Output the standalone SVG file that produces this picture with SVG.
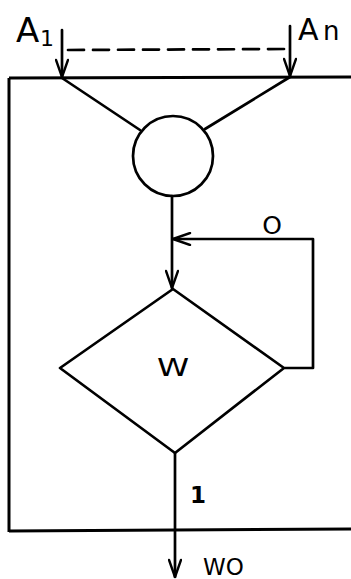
<svg xmlns="http://www.w3.org/2000/svg" width="351" height="579" viewBox="0 0 351 579">
  <defs>
    <marker id="open" viewBox="0 0 20 14" refX="19" refY="7" markerWidth="20" markerHeight="14" markerUnits="userSpaceOnUse" orient="auto">
      <path d="M2,1 L19,7 L2,13" fill="none" stroke="#000" stroke-width="2.4" stroke-linecap="round" stroke-linejoin="round"/>
    </marker>
  </defs>
  <style>
    .ln { fill: none; stroke: #000; stroke-width: 2.7; stroke-linecap: round; stroke-linejoin: round; }
    .frame { fill: none; stroke: #000; stroke-width: 3; }
    .lbl { font-family: "DejaVu Sans", "Liberation Sans", sans-serif; fill: #000; }
  </style>
  <rect width="351" height="579" fill="#fff"/>

  <!-- enclosing frame -->
  <g id="frame">
    <path class="frame" d="M9,78 L351,77 M9,78 L9,532 M9,531 L351,529"/>
  </g>

  <!-- nodes -->
  <g id="merge">
    <circle cx="173" cy="156" r="40" class="ln"/>
  </g>
  <g id="decision">
    <polygon class="ln" points="173,289 284,368 175,453 60,368"/>
    <text class="lbl" x="173" y="376" font-size="25" text-anchor="middle" transform="translate(173 0) scale(1.3 1) translate(-173 0)">W</text>
  </g>

  <!-- connectors -->
  <g id="connectors">
    <line class="ln" x1="62" y1="30" x2="62" y2="77" marker-end="url(#open)"/>
    <line class="ln" x1="290" y1="26" x2="290" y2="76" marker-end="url(#open)"/>
    <line class="ln" x1="68" y1="50" x2="284" y2="49" stroke-dasharray="16,9"/>
    <line class="ln" x1="62" y1="78" x2="140" y2="130"/>
    <line class="ln" x1="290" y1="77" x2="205" y2="129"/>
    <line class="ln" x1="172" y1="196" x2="172" y2="288" marker-end="url(#open)"/>
    <path class="ln" d="M285,368 L313,368 L313,239 L173,239" marker-end="url(#open)"/>
    <line class="ln" x1="175" y1="453" x2="175" y2="577" marker-end="url(#open)"/>
  </g>

  <!-- labels -->
  <g id="labels">
    <text class="lbl" x="16" y="42" font-size="34">A</text>
    <text class="lbl" x="40" y="46" font-size="22">1</text>
    <text class="lbl" x="298" y="40" font-size="30">A</text>
    <text class="lbl" x="323" y="40" font-size="26">n</text>
    <text class="lbl" x="272" y="234" font-size="25" text-anchor="middle">O</text>
    <text class="lbl" x="198" y="503" font-size="23" font-weight="bold" text-anchor="middle">1</text>
    <text class="lbl" x="203" y="575" font-size="23">WO</text>
  </g>
</svg>
